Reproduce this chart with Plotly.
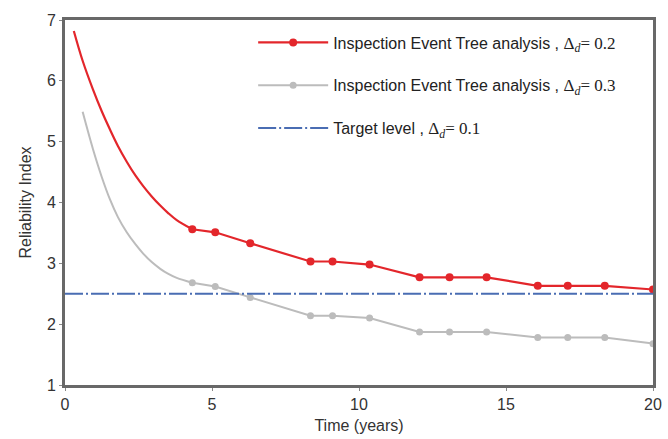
import plotly.graph_objects as go

# smooth early part of curves (years, reliability index)
red_curve_x = [0.3, 0.6, 0.95, 1.25, 1.53, 1.8, 2.1, 2.4, 2.66, 2.95, 3.24, 3.5, 3.8, 4.33]
red_curve_y = [6.82, 6.33, 5.86, 5.5, 5.2, 4.93, 4.67, 4.44, 4.27, 4.1, 3.95, 3.83, 3.71, 3.56]
gray_curve_x = [0.6, 0.95, 1.25, 1.53, 1.8, 2.1, 2.4, 2.66, 2.95, 3.24, 3.5, 3.8, 4.33]
gray_curve_y = [5.49, 4.88, 4.42, 4.05, 3.76, 3.51, 3.31, 3.16, 3.02, 2.91, 2.83, 2.76, 2.68]

# inspection points
insp_x = [4.33, 5.11, 6.3, 8.35, 9.1, 10.36, 12.06, 13.08, 14.34, 16.08, 17.1, 18.36, 20]
red_y = [3.56, 3.51, 3.33, 3.03, 3.03, 2.98, 2.77, 2.77, 2.77, 2.63, 2.63, 2.63, 2.57]
gray_y = [2.68, 2.62, 2.44, 2.14, 2.14, 2.1, 1.87, 1.87, 1.87, 1.78, 1.78, 1.78, 1.68]

target_x = [0, 20]
target_y = [2.5, 2.5]

x_ticks = [0, 5, 10, 15, 20]
y_ticks = [1, 2, 3, 4, 5, 6, 7]

RED = "#e3262b"
GRAY = "#bcbcbc"
BLUE = "#4a6db3"
serif = "font-family:'Liberation Serif',serif;font-size:17px"

fig = go.Figure()
fig.add_trace(go.Scatter(x=red_curve_x, y=red_curve_y, mode="lines", line=dict(color=RED, width=2.2, shape="spline", smoothing=1),
                         showlegend=False, legendgroup="r"))
fig.add_trace(go.Scatter(x=gray_curve_x, y=gray_curve_y, mode="lines", line=dict(color=GRAY, width=2, shape="spline", smoothing=1),
                         showlegend=False, legendgroup="g"))
fig.add_trace(go.Scatter(x=insp_x, y=red_y, mode="lines+markers", line=dict(color=RED, width=2.2),
                         marker=dict(color=RED, size=8), legendgroup="r",
                         name=f"Inspection Event Tree analysis , <span style=\"{serif}\">Δ<sub><i>d</i></sub>= 0.2</span>"))
fig.add_trace(go.Scatter(x=insp_x, y=gray_y, mode="lines+markers", line=dict(color=GRAY, width=2),
                         marker=dict(color=GRAY, size=7), legendgroup="g",
                         name=f"Inspection Event Tree analysis , <span style=\"{serif}\">Δ<sub><i>d</i></sub>= 0.3</span>"))
fig.add_trace(go.Scatter(x=target_x, y=target_y, mode="lines", line=dict(color=BLUE, width=2, dash="18px,3px,2px,3px"),
                         legendgroup="t",
                         name=f"Target level , <span style=\"{serif}\">Δ<sub><i>d</i></sub>= 0.1</span>"))

axis_common = dict(showline=True, linecolor="#686868", linewidth=3, mirror=True, showgrid=False, zeroline=False,
                   automargin=False,
                   ticks="outside", ticklen=3, tickcolor="#888", tickfont=dict(size=16, color="#333"))
fig.update_layout(
    width=668, height=439,
    margin=dict(l=65, r=15, t=20, b=54),
    paper_bgcolor="white", plot_bgcolor="white",
    font=dict(family="Liberation Sans, Arial", color="#333"),
    xaxis=dict(range=[0, 20], tickvals=x_ticks, title=dict(text="Time (years)", font=dict(size=16), standoff=8), **axis_common),
    yaxis=dict(range=[1, 7], tickvals=y_ticks, title=dict(text="Reliability Index", font=dict(size=16), standoff=12), **axis_common),
    legend=dict(x=0.32, y=0.985, xanchor="left", yanchor="top", bgcolor="rgba(255,255,255,0)",
                font=dict(size=16, color="#222"), itemwidth=70, tracegroupgap=19, traceorder="grouped"),
)
fig.write_html("out.html")
